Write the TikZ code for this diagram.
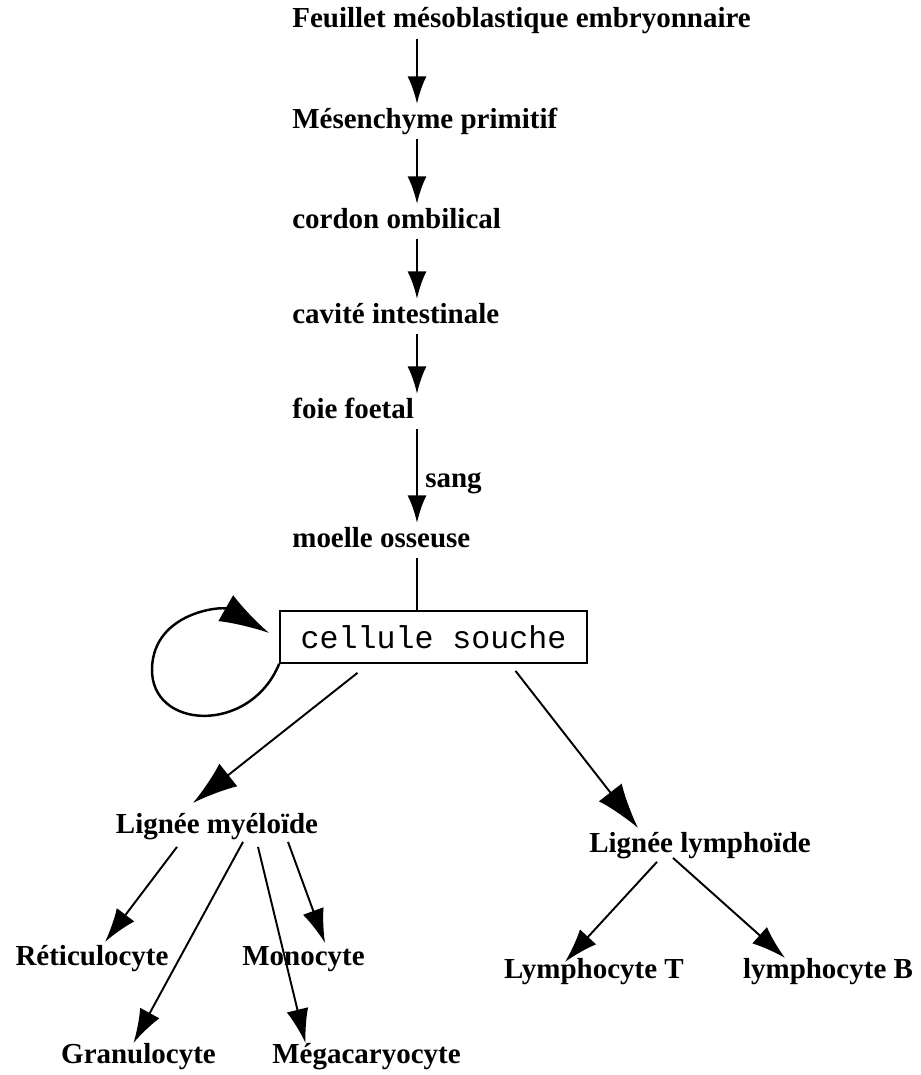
\documentclass[tikz,border=0pt]{standalone}
\usepackage{fontspec}
\setmainfont{Liberation Serif}
\setmonofont{Liberation Mono}
\usepackage{tikz}
\usetikzlibrary{calc,arrows.meta}

\begin{document}
\begin{tikzpicture}[x=0.02cm,y=-0.02cm,
		txt/.style={anchor=base,inner sep=0pt,text height=13.5pt,text depth=6pt,font=\fontsize{16.5}{18}\selectfont\bfseries},
		fl/.style={line width=1.6pt,-{Latex[length=0.55cm,width=0.38cm]}},
		gfl/.style={line width=1.1pt,-{Latex[length=0.9cm,width=0.58cm]}},
		pfl/.style={line width=1.1pt,-{Latex[length=0.68cm,width=0.44cm]}}]
		\useasboundingbox (0,0) rectangle (920,1075);
		% axe vertical des fleches
		\coordinate (X) at (417,0);
		\node[txt,anchor=base west] (Fe) at (292,28) {Feuillet mésoblastique embryonnaire};
		\node[txt,anchor=base west] (Me) at (292,128) {Mésenchyme primitif};
		\node[txt,anchor=base west] (Co) at (292,228) {cordon ombilical};
		\node[txt,anchor=base west] (Ca) at (292,323) {cavité intestinale};
		\node[txt,anchor=base west] (Fo) at (292,418) {foie foetal};
		\node[txt,anchor=base west] (Mo) at (292,547) {moelle osseuse};
		\node[txt,anchor=base west] (S) at (425,487) {sang};
		\node[draw,line width=1pt,minimum width=6.14cm,minimum height=1.04cm,inner sep=0pt,font=\ttfamily\fontsize{18}{20}\selectfont] (CS) at (433.5,637) {cellule souche};
		\node[txt] (LM) at (217,833) {Lignée myéloïde};
		\node[txt] (LL) at (700,852) {Lignée lymphoïde};
		\node[txt] (Re) at (92,965) {Réticulocyte};
		\node[txt] (Mn) at (303.5,965) {Monocyte};
		\node[txt] (Gr) at (138.5,1063) {Granulocyte};
		\node[txt] (Mg) at (366.5,1063) {Mégacaryocyte};
		\node[txt] (LT) at (594,978) {Lymphocyte T};
		\node[txt] (LB) at (828,978) {lymphocyte B};
		\draw[fl] (Fe.south -| X) -- (Me.north -| X);
		\draw[fl] (Me.south -| X) -- (Co.north -| X);
		\draw[fl] (Co.south -| X) -- (Ca.north -| X);
		\draw[fl] (Ca.south -| X) -- (Fo.north -| X);
		\draw[fl] (Fo.south -| X) -- (Mo.north -| X);
		\draw[line width=1.2pt] (Mo.south -| X) -- (CS.north -| X);
		\draw[line width=1.4pt,-{Latex[length=1cm,width=0.6cm]}] (CS.south west) .. controls (250,735) and (150,730) .. (152,668) .. controls (154,612) and (222,606) .. ($(CS.west)+(-10,-4)$);
		\draw[gfl] ($(CS.south)+(-76,9)$) -- ($(LM.north)+(-24,-6)$);
		\draw[gfl] ($(CS.south)+(82,7)$) -- ($(LL.north)+(-62,0)$);
		\draw[pfl] ($(LM.south)+(-40,3)$) -- ($(Re.north)+(13,1)$);
		\draw[pfl] ($(LM.south)+(26,-2)$) -- ($(Gr.north)+(-5,4)$);
		\draw[pfl] ($(LM.south)+(41,3)$) -- ($(Mg.north)+(-61,4)$);
		\draw[pfl] ($(LM.south)+(71,-2)$) -- ($(Mn.north)+(21.5,2)$);
		\draw[pfl] ($(LL.south)+(-43,-1)$) -- ($(LT.north)+(-29,8)$);
		\draw[pfl] ($(LL.south)+(-27,-5)$) -- ($(LB.north)+(-43,4)$);
\end{tikzpicture}
\end{document}
